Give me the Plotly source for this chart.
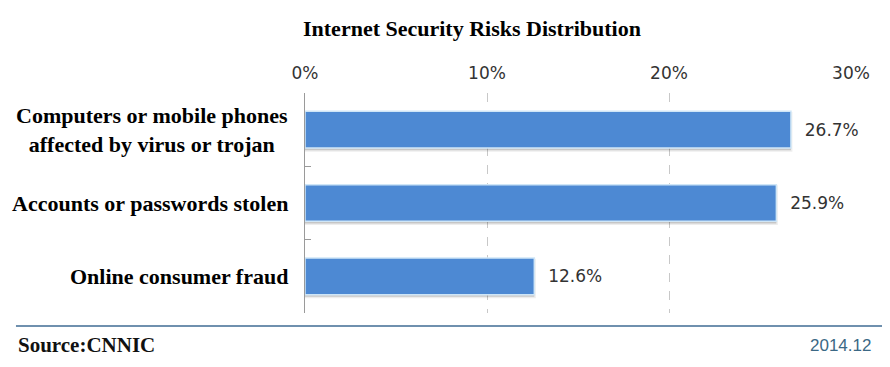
import plotly.graph_objects as go

categories = [
    "Computers or mobile phones<br>affected by virus or trojan",
    "Accounts or passwords stolen",
    "Online consumer fraud",
]
values = [26.7, 25.9, 12.6]
tick_vals = [0, 10, 20, 30]
tick_text = ["0%", "10%", "20%", "30%"]
title_text = "Internet Security Risks Distribution"
source_text = "Source:CNNIC"
date_text = "2014.12"

# the page body has an 8px margin; figure sized to fit the 890x367 window
OFF = 8
W, H = 874, 351
L = 305 - OFF
T = 93 - OFF
R = W - (858.5 - OFF)
B = H - (313 - OFF)
pw = W - L - R
ph = H - T - B

def px_x(page_x):
    return (page_x - OFF - L) / pw

def px_y(page_y):
    return (H - B - (page_y - OFF)) / ph

fig = go.Figure()

# soft shadow
fig.add_trace(go.Bar(
    x=values, y=categories, orientation="h",
    width=0.5, offset=-0.22,
    marker=dict(color="rgba(0,0,0,0.16)", line=dict(color="rgba(0,0,0,0.07)", width=3)),
    hoverinfo="skip", showlegend=False,
))
fig.add_trace(go.Bar(
    x=values, y=categories, orientation="h",
    width=0.5, offset=-0.25,
    marker=dict(color="#4d89d3", line=dict(color="#cfe6f7", width=1.5)),
    text=values,
    texttemplate="\u00a0\u00a0%{x:.1f}%",
    textposition="outside",
    cliponaxis=False,
    textfont=dict(family="DejaVu Sans", size=17, color="#333333"),
    showlegend=False,
))

for c in categories:
    fig.add_annotation(
        x=0, y=c, xref="x", yref="y", text="<b>%s</b>" % c,
        showarrow=False, xanchor="right", yanchor="middle", align="center",
        xshift=-15,
        font=dict(family="Liberation Serif", size=22, color="#000000"),
    )

fig.add_annotation(
    x=px_x(474.5), y=px_y(28), xref="paper", yref="paper",
    text="<b>%s</b>" % title_text, showarrow=False,
    xanchor="center", yanchor="middle",
    font=dict(family="Liberation Serif", size=22, color="#000000"),
)
fig.add_annotation(
    x=px_x(12), y=px_y(345), xref="paper", yref="paper",
    text="<b>%s</b>" % source_text, showarrow=False,
    xanchor="left", yanchor="middle",
    font=dict(family="Liberation Serif", size=21, color="#111111"),
)
fig.add_annotation(
    x=px_x(881), y=px_y(345), xref="paper", yref="paper",
    text=date_text, showarrow=False,
    xanchor="right", yanchor="middle",
    font=dict(family="Liberation Sans", size=17, color="#3b6885"),
)
fig.add_shape(
    type="line", xref="paper", yref="paper",
    x0=px_x(12), x1=px_x(890), y0=px_y(326), y1=px_y(326),
    line=dict(color="#6f90ae", width=2),
)

fig.update_layout(
    width=W, height=H,
    margin=dict(l=L, r=R, t=T, b=B, pad=0),
    paper_bgcolor="white", plot_bgcolor="white",
    barmode="overlay",
    bargap=0.5,
    xaxis=dict(
        range=[0, 30], side="top",
        tickvals=tick_vals, ticktext=tick_text,
        tickfont=dict(family="DejaVu Sans", size=17, color="#333333"),
        showgrid=True, gridcolor="#c8c8c8", griddash="dash", gridwidth=1,
        zeroline=False, showline=False, ticks="",
        ticklabelstandoff=10,
    ),
    yaxis=dict(
        categoryorder="array", categoryarray=categories,
        autorange="reversed",
        showticklabels=False,
        showline=True, linecolor="#9a9a9a", linewidth=1,
        ticks="inside", tickson="boundaries", ticklen=6, tickcolor="#9a9a9a",
        showgrid=False, zeroline=False,
    ),
)

fig.write_html("out.html")
